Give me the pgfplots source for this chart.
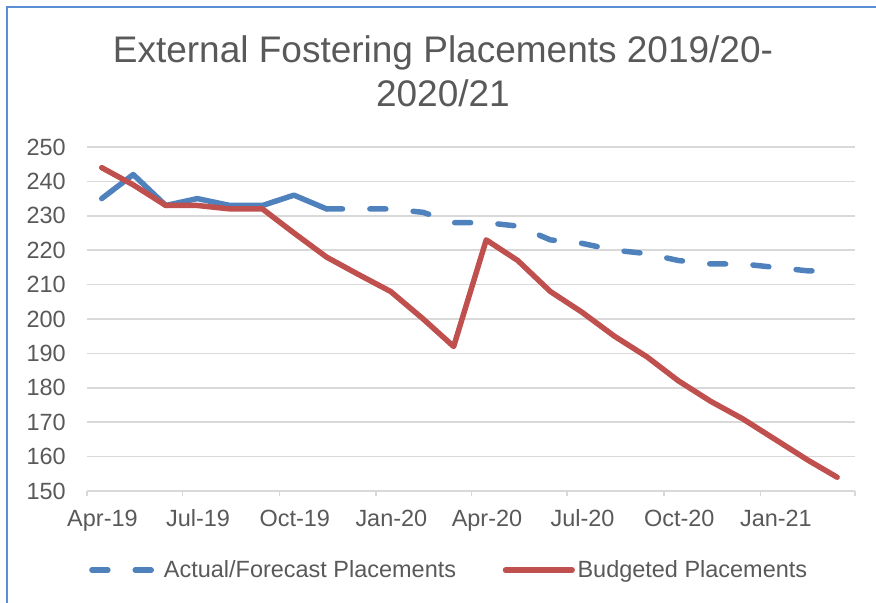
\documentclass[border=0pt]{standalone}
\usepackage{fontspec}
\setmainfont{Liberation Sans}
\usepackage{pgfplots}
\pgfplotsset{compat=1.18}
\definecolor{txt}{HTML}{595959}
\definecolor{gridc}{HTML}{D9D9D9}
\definecolor{bl}{HTML}{4F81BD}
\definecolor{rd}{HTML}{C0504D}
\definecolor{framec}{HTML}{5B8FD5}
\begin{document}
\begin{tikzpicture}[x=1pt,y=1pt]
\useasboundingbox (0,0) rectangle (657,452.25);
\draw[framec, line width=1.5pt] (5.25,-2) -- (5.25,447) -- (660,447);
\begin{axis}[
  at={(65.25pt,84pt)}, anchor=south west,
  scale only axis, width=576pt, height=258pt,
  xmin=0, xmax=731, ymin=150, ymax=250,
  axis x line*=bottom, axis y line*=left,
  y axis line style={draw=none},
  x axis line style={draw=gridc, line width=1.1pt},
  xtick={0,91,183,275,366,457,549,641,731},
  xticklabels={Apr-19,Jul-19,Oct-19,Jan-20,Apr-20,Jul-20,Oct-20,Jan-21,{}},
  ytick={150,160,...,250},
  ymajorgrids,
  major grid style={draw=gridc, line width=1.1pt},
  tick align=outside,
  major tick length=4pt,
  xtick style={draw=gridc, line width=1.1pt},
  ytick style={draw=none},
  /pgf/number format/assume math mode=true,
  tick label style={font=\fontsize{17.6}{21}\selectfont, text=txt},
  yticklabel style={inner sep=0pt, xshift=-11.8pt},
  xticklabel style={inner sep=0pt, xshift=11.6pt, yshift=-10pt},
  title={External Fostering Placements 2019/20-\\2020/21},
  title style={at={(0.4635,1.302)}, anchor=north, align=center, inner sep=0pt,
    font=\fontsize{27.75}{33.5}\selectfont, text=txt},
  legend columns=2,
  legend style={at={(0.472,-0.23)}, anchor=center, draw=none, fill=none,
    font=\fontsize{17.6}{21}\selectfont, text=txt,
    /tikz/every even column/.append style={column sep=33pt}},
  legend image code/.code={\draw[#1] (0pt,0pt) -- (50pt,0pt);},
]
\addplot[bl, line width=4.1pt, line join=round, line cap=round, forget plot] coordinates {
(14,235) (44,242) (75,233) (105,235) (136,233) (167,233) (197,236) (228,232)
};
\addplot[bl, line width=4.1pt, line join=round, line cap=round, dash pattern=on 12pt off 20.5pt] coordinates {
(228,232) (258,232) (289,232) (320,231) (349,228) (380,228) (410,227) (441,223)
(471,222) (502,220) (533,219) (563,217) (594,216) (624,216) (655,215) (686,214) (714,214)
};
\addlegendentry{Actual/Forecast Placements}
\addplot[rd, line width=4.1pt, line join=round, line cap=round] coordinates {
(14,244) (44,239) (75,233) (105,233) (136,232) (167,232) (197,225) (228,218)
(258,213) (289,208) (320,200) (349,192) (380,223) (410,217) (441,208) (471,202)
(502,195) (533,189) (563,182) (594,176) (624,171) (655,165) (686,159) (714,154)
};
\addlegendentry{Budgeted Placements}
\end{axis}
\end{tikzpicture}
\end{document}
